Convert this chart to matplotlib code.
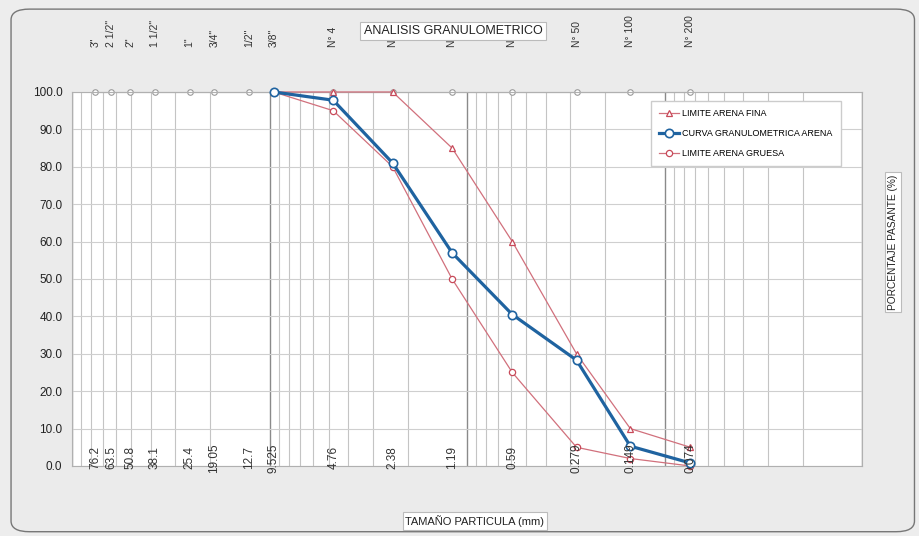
import numpy as np
import matplotlib
matplotlib.use("Agg")
import matplotlib.pyplot as plt
from matplotlib.patches import FancyBboxPatch
from matplotlib.ticker import LogLocator, NullFormatter

plt.rcParams['font.family'] = ['Liberation Sans', 'DejaVu Sans']

# sieve sizes (mm) and names
sizes = [76.2, 63.5, 50.8, 38.1, 25.4, 19.05, 12.7, 9.525, 4.76, 2.38, 1.19, 0.59, 0.279, 0.149, 0.074]
size_labels = ['76.2', '63.5', '50.8', '38.1', '25.4', '19.05', '12.7', '9.525',
               '4.76', '2.38', '1.19', '0.59', '0.279', '0.149', '0.074']
sieve_names = ['3"', '2 1/2"', '2"', '1 1/2"', '1"', '3/4"', '1/2"', '3/8"',
               'N° 4', 'N° 8', 'N° 16', 'N° 30', 'N° 50', 'N° 100', 'N° 200']
top_row = [100] * len(sizes)

# sand curves (9.525 .. 0.074)
sand_sizes = [9.525, 4.76, 2.38, 1.19, 0.59, 0.279, 0.149, 0.074]
limite_fina = [100, 100, 100, 85, 60, 30, 10, 5]
curva_arena = [100, 97.8, 81, 57, 40.5, 28.3, 5.3, 0.8]
limite_gruesa = [100, 95, 80, 50, 25, 5, 2, 0]

yticks = np.arange(0, 101, 10)

fig = plt.figure(figsize=(9.2, 5.36), dpi=100)
fig.patch.set_facecolor('#ededed')
# outer rounded frame
frame = FancyBboxPatch((0.012, 0.008), 0.982, 0.975, boxstyle='round,pad=0,rounding_size=0.02',
                       transform=fig.transFigure, facecolor='#ebebeb', edgecolor='#777777',
                       lw=1.0, zorder=-10)
fig.patches.append(frame)

ax = fig.add_axes([0.0783, 0.1306, 0.8587, 0.6978])
ax.set_facecolor('white')
ax.set_xscale('log')
ax.set_xlim(100, 0.01)
ax.set_ylim(0, 100)

ax.xaxis.set_major_locator(LogLocator(base=10))
ax.xaxis.set_minor_locator(LogLocator(base=10, subs=np.arange(2, 10)))
ax.xaxis.set_major_formatter(NullFormatter())
ax.xaxis.set_minor_formatter(NullFormatter())
ax.tick_params(axis='x', which='both', length=0)
ax.grid(True, axis='x', which='major', color='#8a8a8a', lw=1.0)
ax.grid(True, axis='x', which='minor', color='#c4c4c4', lw=0.8)
ax.set_yticks(yticks)
ax.set_yticklabels(['%.1f' % v for v in yticks], fontsize=8.5, color='#222222')
ax.tick_params(axis='y', length=0, pad=7)
ax.grid(True, axis='y', color='#cfcfcf', lw=0.8)
ax.set_axisbelow(True)
for s in ax.spines.values():
    s.set_color('#b0b0b0')
    s.set_linewidth(0.8)

ax.plot(sizes, top_row, color='#9a9a9a', lw=0.8, marker='o', ms=4,
        mfc='white', mec='#9a9a9a', mew=0.8, clip_on=False, zorder=2)

red = '#d1707c'
ax.plot(sand_sizes, limite_fina, color=red, lw=0.9, marker='^', ms=5, mfc='white',
        mec='#c84a5a', mew=0.9, label='LIMITE ARENA FINA', clip_on=False, zorder=3)
ax.plot(sand_sizes, curva_arena, color='#1f63a0', lw=2.3, marker='o', ms=6, mfc='white',
        mec='#1f63a0', mew=1.2, label='CURVA GRANULOMETRICA ARENA', clip_on=False, zorder=4)
ax.plot(sand_sizes, limite_gruesa, color=red, lw=0.9, marker='o', ms=4.5, mfc='white',
        mec='#c84a5a', mew=0.9, label='LIMITE ARENA GRUESA', clip_on=False, zorder=3)

for x, lab in zip(sizes, size_labels):
    ax.text(x, 2.2, lab, rotation=90, ha='center', va='center', fontsize=8.5,
            color='#333333', zorder=5)

for x, lab in zip(sizes, sieve_names):
    ax.text(x, 1.12, lab, rotation=90, ha='center', va='bottom', fontsize=7.5,
            color='#333333', transform=ax.get_xaxis_transform())

leg = ax.legend(loc='upper left', bbox_to_anchor=(0.727, 0.988), fontsize=6.5,
                frameon=True, fancybox=False, edgecolor='#cccccc', framealpha=1,
                handlelength=2.2, labelspacing=1.2, borderpad=0.9, handletextpad=0.4)

box = dict(boxstyle='square,pad=0.25', facecolor='white', edgecolor='#bbbbbb', lw=0.8)
fig.text(453 / 920, 1 - 31 / 536, 'ANALISIS GRANULOMETRICO', ha='center', va='center',
         fontsize=9, color='#222222', bbox=box, zorder=10)
fig.text(475 / 920, 1 - 521 / 536, 'TAMAÑO PARTICULA (mm)', ha='center', va='center',
         fontsize=8, color='#222222', bbox=box)
fig.text(893 / 920, 1 - 242 / 536, 'PORCENTAJE PASANTE (%)', ha='center', va='center',
         rotation=90, fontsize=7.3, color='#222222', bbox=box)

fig.savefig('out.png', dpi=100, facecolor=fig.get_facecolor())
